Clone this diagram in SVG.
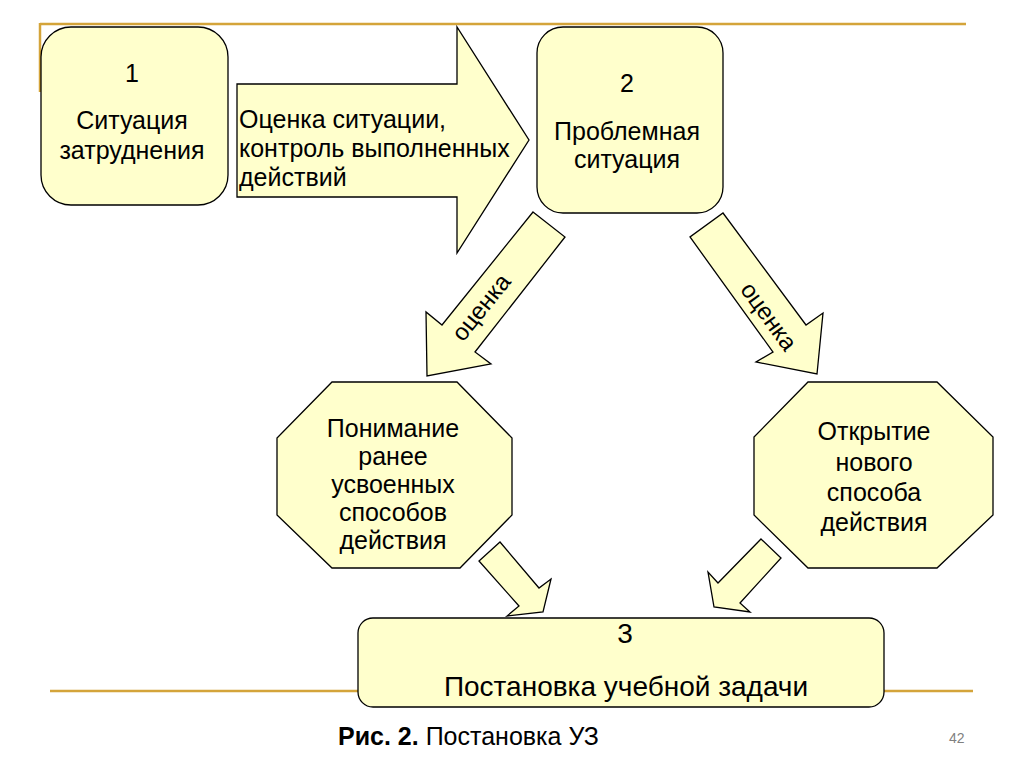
<svg xmlns="http://www.w3.org/2000/svg" width="1024" height="767" viewBox="0 0 1024 767">
<style>
.shape{fill:#FFFFCC;stroke:#000;stroke-width:1.3;stroke-linejoin:miter}
.t{font-family:"Liberation Sans",Arial,sans-serif;font-size:25px;fill:#000}
.c{text-anchor:middle}
.big{font-size:28px}
.rot{font-size:24px}
.cap{font-size:25px}
.num{font-size:14px;fill:#808080}
.gold{stroke:#D4A43A;stroke-width:2.5;fill:none}
</style>
<rect width="1024" height="767" fill="#fff"/>
<g id="decor">
<line class="gold" x1="40" y1="24" x2="966" y2="24"/>
<line class="gold" x1="40" y1="23" x2="40" y2="92"/>
<line class="gold" x1="50" y1="691" x2="973" y2="691"/>
</g>
<g id="connectors">
<g id="arrow-main">
<polygon class="shape" points="237,84 457,84 457,27 529,140 457,253 457,197 237,197"/>
<text class="t" x="239" y="128">Оценка ситуации,</text>
<text class="t" x="239" y="157">контроль выполненных</text>
<text class="t" x="239" y="186">действий</text>
</g>
<g id="arrow-left">
<polygon class="shape" points="533,212 565,237 475,352 491,364 427,376 426,312 442,325"/>
<text class="t c rot" transform="translate(482,308) rotate(-51)" y="7">оценка</text>
</g>
<g id="arrow-right">
<polygon class="shape" points="723,213 806,325 823,313 817,374 756,362 773,352 690,237"/>
<text class="t c rot" transform="translate(768,317) rotate(54)" y="7">оценка</text>
</g>
<polygon class="shape" points="500,542 539,588 551,579 543,612 507,616 519,606 479,561"/>
<polygon class="shape" points="761,539 781,558 740,603 750,612 714,607 708,572 718,583"/>
</g>
<g id="node1">
<rect class="shape" x="41" y="27" width="187" height="178" rx="30" ry="30"/>
<text class="t c" x="132" y="82">1</text>
<text class="t c" x="132" y="129">Ситуация</text>
<text class="t c" x="132" y="159">затруднения</text>
</g>
<g id="node2">
<rect class="shape" x="537" y="27" width="186" height="186" rx="26" ry="26"/>
<text class="t c" x="627" y="92">2</text>
<text class="t c" x="627" y="140">Проблемная</text>
<text class="t c" x="627" y="168">ситуация</text>
</g>
<g id="node-left">
<polygon class="shape" points="332,382 457,382 512,438 512,515 460,568 332,568 277,515 277,438"/>
<text class="t c" x="393" y="437">Понимание</text>
<text class="t c" x="393" y="465">ранее</text>
<text class="t c" x="393" y="493">усвоенных</text>
<text class="t c" x="393" y="521">способов</text>
<text class="t c" x="393" y="549">действия</text>
</g>
<g id="node-right">
<polygon class="shape" points="808,382 937,382 993,437 993,515 937,568 808,568 754,515 754,437"/>
<text class="t c" x="874" y="440">Открытие</text>
<text class="t c" x="874" y="471">нового</text>
<text class="t c" x="874" y="501">способа</text>
<text class="t c" x="874" y="531">действия</text>
</g>
<g id="node3">
<rect class="shape" x="358" y="618" width="526" height="89" rx="15" ry="15"/>
<text class="t c big" x="625" y="643">3</text>
<text class="t c big" x="626" y="696">Постановка учебной задачи</text>
</g>
<g id="caption">
<text class="t cap" x="338" y="745"><tspan font-weight="bold">Рис. 2.</tspan> Постановка УЗ</text>
<text class="t num" x="949" y="743">42</text>
</g>
</svg>
